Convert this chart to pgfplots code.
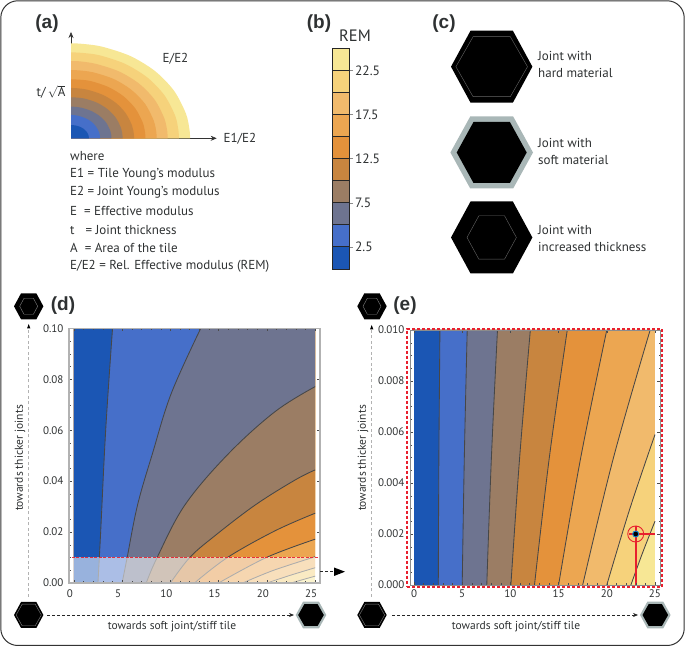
\documentclass[border=0pt]{standalone}
\usepackage{pgfplots}
\usepackage{pgfplotstable}
\usepackage{fontspec}
\setmainfont{PT Sans}
\newfontfamily\hv{Liberation Sans}
\pgfplotsset{compat=1.18}
\usetikzlibrary{arrows.meta}
\definecolor{c1}{HTML}{1B56B4}
\definecolor{c2}{HTML}{466FC9}
\definecolor{c3}{HTML}{6E7490}
\definecolor{c4}{HTML}{9B7D64}
\definecolor{c5}{HTML}{C8853F}
\definecolor{c6}{HTML}{E4923B}
\definecolor{c7}{HTML}{ECA651}
\definecolor{c8}{HTML}{F1BA6C}
\definecolor{c9}{HTML}{F6D27B}
\definecolor{c10}{HTML}{F7E795}
\definecolor{tx}{HTML}{2E3132}
\definecolor{grayj}{HTML}{A9B7B7}
\definecolor{redd}{HTML}{E8202E}
\newcommand\txt{\fontsize{11.5}{14}\selectfont\color{tx}}
\newcommand\txb{\fontsize{13}{16.2}\selectfont\color{tx}}
\newcommand\hexp[4]{({#1-#3},#2) -- ({#1-0.52*#3},{#2-#4}) -- ({#1+0.52*#3},{#2-#4}) -- ({#1+#3},#2) -- ({#1+0.52*#3},{#2+#4}) -- ({#1-0.52*#3},{#2+#4}) -- cycle}
% panel d contours
\pgfplotstableread{
x y
2.5 0
2.78 0.02
3.3 0.06
4.01 0.1
}\dA
\pgfplotstableread{
x y
5 0
5.53 0.0101
6.6 0.0306
8.16 0.051
10.1 0.0745
13.15 0.1
}\dB
\pgfplotstableread{
x y
7.5 0
8.64 0.0101
11.5 0.0306
15.95 0.0505
20.85 0.0673
25 0.0771
}\dC
\pgfplotstableread{
x y
10 0
12.03 0.0101
14.63 0.0186
18.78 0.0306
22.9 0.0404
25 0.0444
}\dD
\pgfplotstableread{
x y
12.5 0
15.95 0.0101
20.85 0.0205
25 0.0274
}\dE
\pgfplotstableread{
x y
15 0
20 0.0101
25 0.0172
}\dF
\pgfplotstableread{
x y
17.5 0
20.7 0.005
25 0.0103
}\dG
\pgfplotstableread{
x y
20 0
22.4 0.003
25 0.006
}\dH
\pgfplotstableread{
x y
22.5 0
23.7 0.0013
25 0.0027
}\dI
% panel e contours
\pgfplotstableread{
x y
2.52 0
2.58 0.005
2.69 0.01
}\eA
\pgfplotstableread{
x y
5.0 0
5.22 0.005
5.52 0.01
}\eB
\pgfplotstableread{
x y
7.55 0
8.03 0.005
8.66 0.01
}\eC
\pgfplotstableread{
x y
10.05 0
10.96 0.005
12.07 0.01
}\eD
\pgfplotstableread{
x y
12.5 0
14.04 0.005
15.9 0.01
}\eE
\pgfplotstableread{
x y
15 0
17.3 0.005
20 0.01
}\eF
\pgfplotstableread{
x y
17.5 0
20.7 0.005
24.5 0.01
}\eG
\pgfplotstableread{
x y
20 0
22.4 0.003
25 0.0059
}\eH
\pgfplotstableread{
x y
22.5 0
23.7 0.00125
25 0.0025
}\eI
\pgfplotsset{
  contourax/.style={
    scale only axis, axis on top, clip=false,
    tick style={color=black!70, line width=0.4pt},
    major tick length=3pt, minor tick length=1.5pt,
    tick label style={font=\fontsize{11}{12}\selectfont, color=tx, /pgf/number format/assume math mode=true},
    xtick={0,5,10,15,20,25}, minor x tick num=4,
  },
  reg/.style={fill=#1, draw=none, smooth, tension=0.6, mark=none, forget plot},
  cl/.style={draw=black!72, line width=0.85pt, smooth, tension=0.6, mark=none, forget plot},
}
\begin{document}
\begin{tikzpicture}
\useasboundingbox (0,0) rectangle (685pt,647pt);

% ---------- panel a
\begin{axis}[at={(71pt,508.7pt)}, anchor=south west, scale only axis,
  width=145.7pt, height=106.3pt, xmin=0, xmax=12.24, ymin=0, ymax=11.2,
  axis lines=left, xtick=\empty, ytick=\empty, clip=false,
  axis line style={color=black!80, line width=0.6pt, -{Stealth[length=6pt,width=5pt]}}]
\addplot[fill=c10,draw=none,smooth] coordinates {(10,0)(9.96,0.87)(9.66,2.59)(8.66,5)(7.07,7.07)(5,8.66)(2.59,9.66)(0.87,9.96)(0,10)} \closedcycle;
\addplot[fill=c9,draw=none,smooth] coordinates {(9.07,0)(9.03,0.79)(8.76,2.35)(7.85,4.53)(6.41,6.41)(4.53,7.85)(2.35,8.76)(0.79,9.01)(0,9.05)} \closedcycle;
\addplot[fill=c8,draw=none,smooth] coordinates {(8.12,0)(8.09,0.71)(7.84,2.1)(7.03,4.06)(5.74,5.74)(4.06,7.03)(2.1,7.84)(0.71,8.11)(0,8.14)} \closedcycle;
\addplot[fill=c7,draw=none,smooth] coordinates {(7.2,0)(7.17,0.63)(6.95,1.86)(6.24,3.6)(5.09,5.09)(3.6,6.24)(1.86,6.95)(0.63,7.16)(0,7.19)} \closedcycle;
\addplot[fill=c6,draw=none,smooth] coordinates {(6.25,0)(6.23,0.54)(6.04,1.62)(5.41,3.13)(4.42,4.42)(3.13,5.41)(1.62,6.04)(0.54,6.19)(0,6.21)} \closedcycle;
\addplot[fill=c5,draw=none,smooth] coordinates {(5.3,0)(5.28,0.46)(5.12,1.37)(4.59,2.65)(3.75,3.75)(2.65,4.59)(1.37,5.12)(0.46,5.28)(0,5.3)} \closedcycle;
\addplot[fill=c4,draw=none,smooth] coordinates {(4.34,0)(4.32,0.38)(4.19,1.12)(3.76,2.17)(3.07,3.07)(2.17,3.76)(1.12,4.19)(0.38,4.3)(0,4.32)} \closedcycle;
\addplot[fill=c3,draw=none,smooth] coordinates {(3.4,0)(3.39,0.29)(3.28,0.86)(2.94,1.67)(2.4,2.35)(1.7,2.88)(0.88,3.22)(0.3,3.32)(0,3.33)} \closedcycle;
\addplot[fill=c2,draw=none,smooth] coordinates {(2.44,0)(2.43,0.21)(2.36,0.63)(2.11,1.22)(1.73,1.73)(1.22,2.11)(0.63,2.36)(0.21,2.45)(0,2.46)} \closedcycle;
\addplot[fill=c1,draw=none,smooth] coordinates {(1.51,0)(1.5,0.12)(1.46,0.36)(1.31,0.7)(1.07,0.99)(0.76,1.21)(0.39,1.35)(0.13,1.39)(0,1.4)} \closedcycle;
\end{axis}

% ---------- panel b colour bar
\begin{axis}[at={(332.3pt,378pt)}, anchor=south west, scale only axis,
  width=16.7pt, height=220.7pt, xmin=0, xmax=1, ymin=0, ymax=25,
  xtick=\empty, ytick={2.5,7.5,12.5,17.5,22.5},
  yticklabels={2.5,7.5,12.5,17.5,22.5},
  ytick pos=right, tick align=outside, major tick length=4pt,
  tick style={color=black!45, line width=0.5pt},
  yticklabel style={font=\fontsize{13.5}{15}\selectfont, color=tx, xshift=-1.5pt},
  axis line style={draw=black!85, line width=0.9pt}, axis on top]
\addplot[fill=c1,draw=black!85,line width=0.9pt] coordinates {(0,0)(1,0)(1,2.5)(0,2.5)} --cycle;
\addplot[fill=c2,draw=black!85,line width=0.9pt] coordinates {(0,2.5)(1,2.5)(1,5)(0,5)} --cycle;
\addplot[fill=c3,draw=black!85,line width=0.9pt] coordinates {(0,5)(1,5)(1,7.5)(0,7.5)} --cycle;
\addplot[fill=c4,draw=black!85,line width=0.9pt] coordinates {(0,7.5)(1,7.5)(1,10)(0,10)} --cycle;
\addplot[fill=c5,draw=black!85,line width=0.9pt] coordinates {(0,10)(1,10)(1,12.5)(0,12.5)} --cycle;
\addplot[fill=c6,draw=black!85,line width=0.9pt] coordinates {(0,12.5)(1,12.5)(1,15)(0,15)} --cycle;
\addplot[fill=c7,draw=black!85,line width=0.9pt] coordinates {(0,15)(1,15)(1,17.5)(0,17.5)} --cycle;
\addplot[fill=c8,draw=black!85,line width=0.9pt] coordinates {(0,17.5)(1,17.5)(1,20)(0,20)} --cycle;
\addplot[fill=c9,draw=black!85,line width=0.9pt] coordinates {(0,20)(1,20)(1,22.5)(0,22.5)} --cycle;
\addplot[fill=c10,draw=black!85,line width=0.9pt] coordinates {(0,22.5)(1,22.5)(1,25)(0,25)} --cycle;
\end{axis}

% ---------- panel d
\begin{axis}[contourax, at={(69pt,64pt)}, anchor=south west,
  width=251pt, height=254.7pt,
  xmin=-0.5, xmax=25.5, ymin=0, ymax=0.1,
  ytick={0,0.02,0.04,0.06,0.08,0.1}, minor y tick num=3,
  yticklabel style={xshift=-2pt, /pgf/number format/.cd, fixed, fixed zerofill, precision=2},
  xticklabel style={xshift=-4pt, yshift=-3pt},
  axis line style={draw=black!30, line width=1.2pt}]
\addplot[fill=c10,draw=none,forget plot] coordinates {(0,0)(25,0)(25,0.1)(0,0.1)} --cycle;
\addplot[reg=c9] table {\dI} -- (axis cs:25,0.1) -- (axis cs:0,0.1) -- (axis cs:0,0) -- cycle;
\addplot[reg=c8] table {\dH} -- (axis cs:25,0.1) -- (axis cs:0,0.1) -- (axis cs:0,0) -- cycle;
\addplot[reg=c7] table {\dG} -- (axis cs:25,0.1) -- (axis cs:0,0.1) -- (axis cs:0,0) -- cycle;
\addplot[reg=c6] table {\dF} -- (axis cs:25,0.1) -- (axis cs:0,0.1) -- (axis cs:0,0) -- cycle;
\addplot[reg=c5] table {\dE} -- (axis cs:25,0.1) -- (axis cs:0,0.1) -- (axis cs:0,0) -- cycle;
\addplot[reg=c4] table {\dD} -- (axis cs:25,0.1) -- (axis cs:0,0.1) -- (axis cs:0,0) -- cycle;
\addplot[reg=c3] table {\dC} -- (axis cs:25,0.1) -- (axis cs:0,0.1) -- (axis cs:0,0) -- cycle;
\addplot[reg=c2] table {\dB} -- (axis cs:0,0.1) -- (axis cs:0,0) -- cycle;
\addplot[reg=c1] table {\dA} -- (axis cs:0,0.1) -- (axis cs:0,0) -- cycle;
\addplot[cl] table {\dA};
\addplot[cl] table {\dB};
\addplot[cl] table {\dC};
\addplot[cl] table {\dD};
\addplot[cl] table {\dE};
\addplot[cl] table {\dF};
\addplot[cl] table {\dG};
\addplot[cl] table {\dH};
\addplot[cl] table {\dI};
\addplot[fill=white, fill opacity=0.55, draw=redd, draw opacity=0.9, dash pattern=on 3pt off 1.5pt, line width=0.9pt, forget plot] coordinates {(-0.5,0)(25.5,0)(25.5,0.0101)(-0.5,0.0101)} --cycle;
\end{axis}

% ---------- panel e
\begin{axis}[contourax, at={(410pt,62pt)}, anchor=south west,
  width=250pt, height=255pt,
  xmin=-0.415, xmax=25.52, ymin=0, ymax=0.01,
  ytick={0,0.002,0.004,0.006,0.008,0.01}, minor y tick num=3,
  yticklabel style={xshift=-2pt, /pgf/number format/.cd, fixed, fixed zerofill, precision=3},
  scaled y ticks=false,
  xticklabel style={yshift=-1pt},
  axis line style={draw=black!45, line width=0.7pt}]
\addplot[fill=c10,draw=none,forget plot] coordinates {(0,0)(25,0)(25,0.01)(0,0.01)} --cycle;
\addplot[reg=c9] table {\eI} -- (axis cs:25,0.01) -- (axis cs:0,0.01) -- (axis cs:0,0) -- cycle;
\addplot[reg=c8] table {\eH} -- (axis cs:25,0.01) -- (axis cs:0,0.01) -- (axis cs:0,0) -- cycle;
\addplot[reg=c7] table {\eG} -- (axis cs:0,0.01) -- (axis cs:0,0) -- cycle;
\addplot[reg=c6] table {\eF} -- (axis cs:0,0.01) -- (axis cs:0,0) -- cycle;
\addplot[reg=c5] table {\eE} -- (axis cs:0,0.01) -- (axis cs:0,0) -- cycle;
\addplot[reg=c4] table {\eD} -- (axis cs:0,0.01) -- (axis cs:0,0) -- cycle;
\addplot[reg=c3] table {\eC} -- (axis cs:0,0.01) -- (axis cs:0,0) -- cycle;
\addplot[reg=c2] table {\eB} -- (axis cs:0,0.01) -- (axis cs:0,0) -- cycle;
\addplot[reg=c1] table {\eA} -- (axis cs:0,0.01) -- (axis cs:0,0) -- cycle;
\addplot[cl] table {\eA};
\addplot[cl] table {\eB};
\addplot[cl] table {\eC};
\addplot[cl] table {\eD};
\addplot[cl] table {\eE};
\addplot[cl] table {\eF};
\addplot[cl] table {\eG};
\addplot[cl] table {\eH};
\addplot[cl] table {\eI};
\addplot[only marks, mark=o, mark size=8pt, mark options={draw=redd, line width=0.9pt}, forget plot] coordinates {(23,0.002)};
\addplot[draw=redd, dash pattern=on 3pt off 2pt, line width=2.4pt, forget plot] coordinates {(-0.7,-0.00007)(25.75,-0.00007)(25.75,0.01005)(-0.7,0.01005)} --cycle;
\addplot[fill=redd, draw=none, mark=none, forget plot] coordinates {(22.91,0)(23.09,0)(23.09,0.0023)(22.91,0.0023)} --cycle;
\addplot[fill=redd, draw=none, mark=none, forget plot] coordinates {(22.3,0.00197)(25,0.00197)(25,0.00203)(22.3,0.00203)} --cycle;
\addplot[only marks, mark=*, mark size=3pt, mark options={draw=cyan!70!blue, fill=black, line width=0.9pt}, forget plot] coordinates {(23,0.002)};
\end{axis}

\begin{scope}[x=1pt,y=-1pt,yshift=647pt]
% frame
\draw[color=black!80, line width=1pt, rounded corners=17pt] (0.8,0.8) rectangle (684.2,645.5);

% panel labels
\foreach \lab/\px/\py in {(a)/47/24,(b)/319/24,(c)/444/24,(d)/63/306,(e)/405/306}
  \node[text=tx, font={\hv\bfseries\fontsize{19}{22}\selectfont}] at (\px,\py) {\lab};

% panel a text
\node[font=\txb] at (175.5,59) {E/E2};
\node[font=\txb, anchor=west] at (220,138.5) {E1/E2};
\node[font=\txb] at (51,92) {t/\,$\sqrt{\mbox{A}}$};
\foreach \ty/\tt in {156/where,174.5/E1 = Tile Young’s modulus,192.5/E2 = Joint Young’s modulus,211/E\hspace{7pt}= Effective modulus,229.5/t\hspace{11pt}= Joint thickness,248/A\hspace{7pt}= Area of the tile,266.5/{E/E2 = Rel. Effective modulus (REM)}}
  \node[font=\txb, anchor=west, inner sep=0pt] at (70,\ty) {\tt};

% panel b text
\node[text=tx, font=\fontsize{16.5}{18}\selectfont] at (355,36) {REM};

% panel c
\fill[black] \hexp{491.7}{66.7}{40.7}{36};
\draw[color=black!60, line width=0.4pt] \hexp{491.7}{66.7}{35.8}{30};
\fill[grayj] \hexp{491.7}{152.5}{41.3}{36};
\fill[black] \hexp{491.7}{152.5}{35}{30.5};
\fill[black] \hexp{491.7}{237.5}{40.7}{36};
\draw[color=black!60, line width=0.4pt] \hexp{491.7}{237.5}{24.7}{21.7};
\node[font=\txb, anchor=west, align=left, inner sep=0pt] at (538,64.5) {Joint with\\hard material};
\node[font=\txb, anchor=west, align=left, inner sep=0pt] at (538,151.5) {Joint with\\soft material};
\node[font=\txb, anchor=west, align=left, inner sep=0pt] at (538,238.5) {Joint with\\increased thickness};

% small hexagons panel d
\fill[black] \hexp{28.7}{306.3}{14.7}{13};
\draw[color=black!50, line width=0.4pt] \hexp{28.7}{306.3}{9}{8};
\fill[black] \hexp{28.7}{615}{14.7}{13};
\draw[color=black!50, line width=0.4pt] \hexp{28.7}{615}{12.6}{10.8};
\fill[grayj] \hexp{311}{615}{15.3}{13.3};
\fill[black] \hexp{311}{615}{12.8}{10.8};
% small hexagons panel e
\fill[black] \hexp{372}{306.3}{14.7}{13};
\draw[color=black!50, line width=0.4pt] \hexp{372}{306.3}{9}{8};
\fill[black] \hexp{372}{615}{14.7}{13};
\draw[color=black!50, line width=0.4pt] \hexp{372}{615}{12.6}{10.8};
\fill[grayj] \hexp{655.3}{615}{15.3}{13.3};
\fill[black] \hexp{655.3}{615}{12.8}{10.8};

% arrows
\draw[color=black!30, dash pattern=on 3pt off 2.5pt, line width=0.9pt] (28.7,597) -- (28.7,328);
\fill[black] (28.7,324) -- (27,328.5) -- (30.4,328.5) -- cycle;
\draw[color=black!30, dash pattern=on 3pt off 2.5pt, line width=0.9pt] (371.7,597) -- (371.7,330);
\fill[black] (371.7,325) -- (370,329.5) -- (373.4,329.5) -- cycle;
\draw[color=black!85, dash pattern=on 3pt off 2pt, line width=0.7pt, -{Stealth[length=5pt,width=4pt]}] (47,615) -- (294,615);
\draw[color=black!85, dash pattern=on 3pt off 2pt, line width=0.7pt, -{Stealth[length=5pt,width=4pt]}] (392,615) -- (638,615);
\draw[color=black!85, dash pattern=on 3pt off 2pt, line width=0.8pt] (320,571.7) -- (335,571.7);
\fill[black] (345,571.7) -- (334,567.5) -- (334,576) -- cycle;

% axis texts
\node[font=\txt, rotate=90] at (20,458) {towards thicker joints};
\node[font=\txt, rotate=90] at (363,458) {towards thicker joints};
\node[font=\txt] at (172,627) {towards soft joint/stiff tile};
\node[font=\txt] at (516,627) {towards soft joint/stiff tile};
\end{scope}
\end{tikzpicture}
\end{document}
